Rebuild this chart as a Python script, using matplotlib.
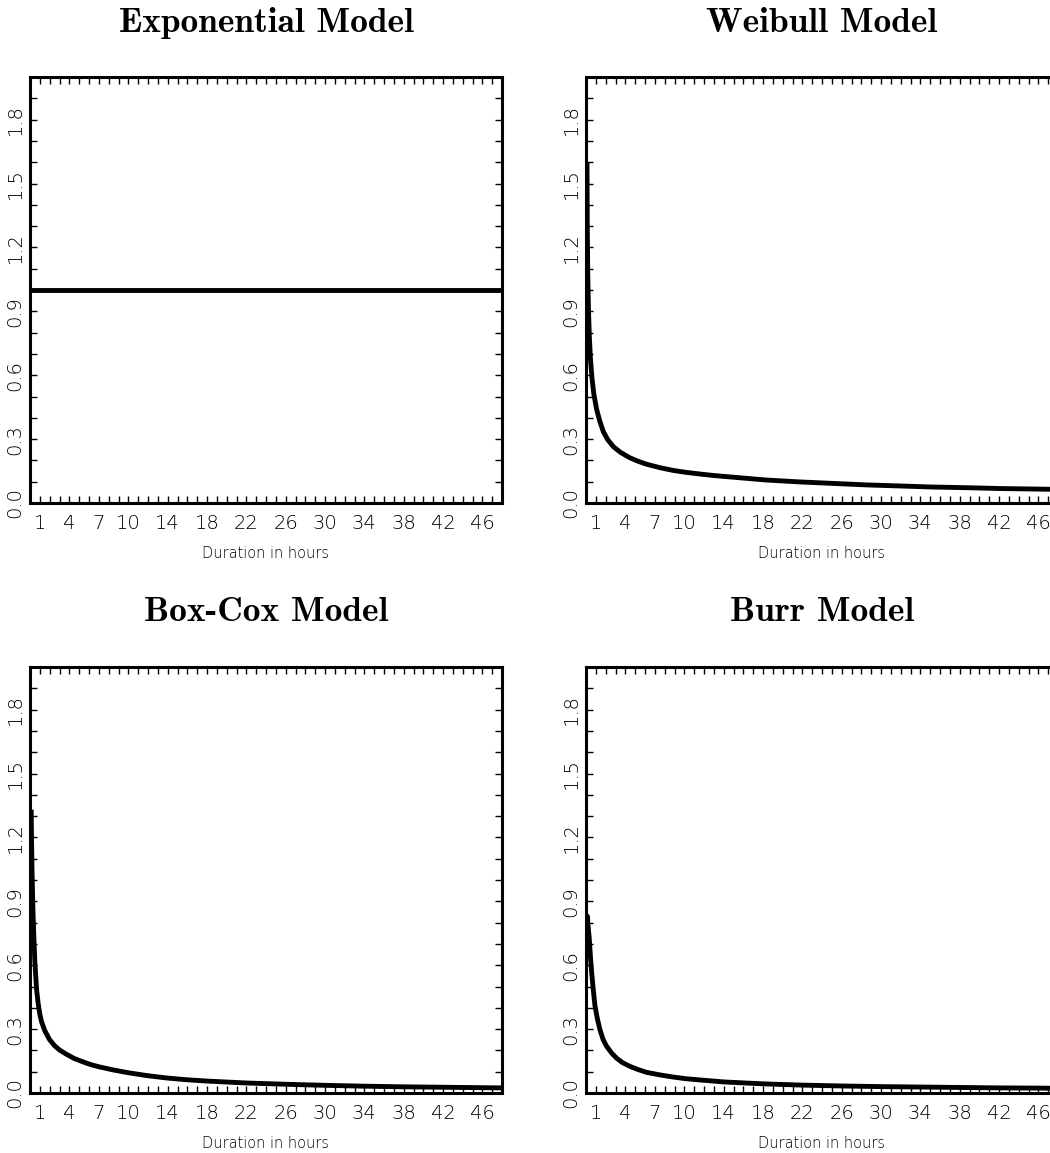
import numpy as np
import matplotlib.pyplot as plt

# hazard curves (duration in hours, hazard)
expo_t = [0.0, 48.0]
expo_h = [1.0, 1.0]

weibull_t = [0.1, 0.13, 0.18, 0.25, 0.34, 0.45, 0.6, 0.8, 1.08, 1.4, 1.76, 2.2, 2.77, 3.5,
             4.47, 5.3, 6.16, 7.5, 8.86, 10, 11.6, 13, 15, 18.3, 21.7, 25.1, 28.5, 31.9,
             35.2, 38.6, 42, 45, 48]
weibull_h = [1.60, 1.30, 1.07, 0.91, 0.78, 0.68, 0.59, 0.51, 0.44, 0.385, 0.335, 0.298, 0.265,
             0.238, 0.212, 0.196, 0.182, 0.166, 0.153, 0.145, 0.136, 0.129, 0.121, 0.108,
             0.099, 0.092, 0.085, 0.080, 0.075, 0.072, 0.068, 0.066, 0.064]

boxcox_t = [0.12, 0.16, 0.2, 0.26, 0.32, 0.4, 0.49, 0.66, 0.83, 1.0, 1.17, 1.5, 2.0, 2.5, 3.0,
            3.7, 4.5, 5.4, 6.2, 7.1, 8.5, 10, 12, 14, 16, 18, 22, 26, 30, 34, 38, 42, 46, 48]
boxcox_h = [1.33, 1.18, 1.06, 0.93, 0.83, 0.72, 0.62, 0.49, 0.42, 0.37, 0.335, 0.293, 0.25,
            0.222, 0.202, 0.182, 0.162, 0.146, 0.133, 0.122, 0.108, 0.095, 0.081, 0.07, 0.062,
            0.056, 0.047, 0.041, 0.036, 0.032, 0.029, 0.027, 0.025, 0.024]

burr_t = [0.1, 0.14, 0.2, 0.27, 0.34, 0.45, 0.58, 0.75, 0.91, 1.15, 1.42, 1.75, 2.1, 2.6, 3.1,
          3.7, 4.47, 5.3, 6.16, 7.5, 8.86, 10, 11.4, 14, 18, 22, 26, 30, 34, 38, 42, 46, 48]
burr_h = [0.80, 0.83, 0.79, 0.755, 0.72, 0.64, 0.563, 0.48, 0.41, 0.35, 0.297, 0.25, 0.219,
          0.188, 0.164, 0.143, 0.125, 0.11, 0.097, 0.085, 0.075, 0.068, 0.062, 0.052, 0.043,
          0.037, 0.033, 0.030, 0.028, 0.026, 0.024, 0.023, 0.022]

titles = ['Exponential Model', 'Weibull Model', 'Box-Cox Model', 'Burr Model']
x_labels = [1, 4, 7, 10, 14, 18, 22, 26, 30, 34, 38, 42, 46]
y_labels = [0.0, 0.3, 0.6, 0.9, 1.2, 1.5, 1.8]

W, H = 1050, 1153
fig = plt.figure(figsize=(W / 100, H / 100), dpi=100)

tick_font = dict(family='DejaVu Sans', size=14, weight='light', color='black')


def hazard_panel(left, bottom, t, h, title):
    ax = fig.add_axes([left / W, 1 - bottom / H, 472 / W, 426 / H])
    ax.plot(t, h, color='black', lw=3.5, solid_capstyle='butt')
    ax.set_xlim(0, 48)
    ax.set_ylim(0, 2.0)

    ax.set_xticks(np.arange(1, 48), minor=True)
    ax.set_xticks(x_labels)
    ax.set_xticklabels([str(v) for v in x_labels], fontdict=tick_font)
    ax.set_yticks(np.arange(0, 20) / 10, minor=True)
    ax.set_yticks(y_labels)
    ax.set_yticklabels(['%.1f' % v for v in y_labels], fontdict=tick_font,
                       rotation=90, va='center')

    ax.tick_params(which='both', direction='in', top=True, right=True,
                   length=5, width=1.0, color='black')
    ax.tick_params(axis='x', pad=8)
    ax.tick_params(axis='y', pad=4)
    for s in ax.spines.values():
        s.set_linewidth(2.2)

    ax.set_xlabel('Duration in hours', fontsize=10.5, fontweight='light',
                  color='black', labelpad=9)
    cx = (left + 236) / W
    fig.text(cx, 1 - (bottom - 426 - 54) / H, title, ha='center', va='center',
             family='cmb10', fontsize=25.5)
    return ax


hazard_panel(30, 503, expo_t, expo_h, titles[0])
hazard_panel(586, 503, weibull_t, weibull_h, titles[1])
hazard_panel(30, 1093, boxcox_t, boxcox_h, titles[2])
hazard_panel(586, 1093, burr_t, burr_h, titles[3])

fig.savefig('out.png', dpi=100)
